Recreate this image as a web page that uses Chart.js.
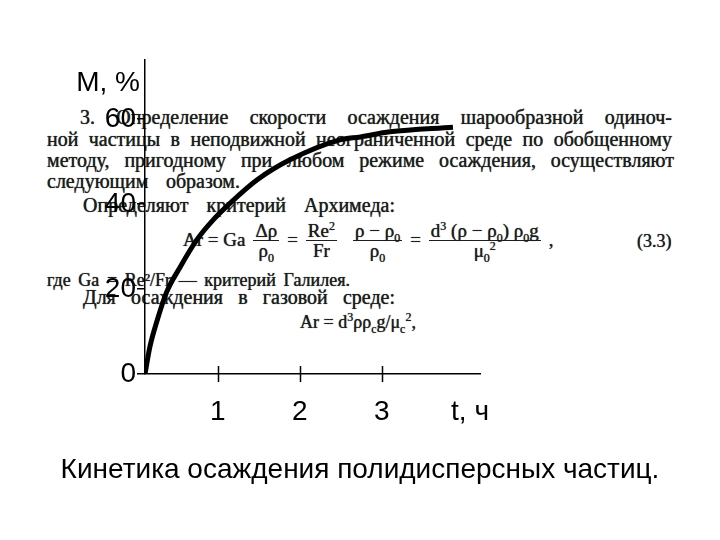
<!DOCTYPE html>
<html>
<head>
<meta charset="utf-8">
<script src="https://cdn.jsdelivr.net/npm/chart.js@4.4.1/dist/chart.umd.min.js"></script>
<style>
  html, body { margin:0; padding:0; background:#fff; }
  #wrap { position:relative; width:720px; height:540px; overflow:hidden; background:#fff; }
  #scan { position:absolute; left:0; top:0; width:720px; height:540px;
          font-family:'Liberation Serif','DejaVu Serif',serif; font-size:20px; color:#1e1e1e;
          text-shadow:0 0 0.8px #1e1e1e; }
  .ln { position:absolute; height:20px; line-height:20px; white-space:nowrap; }
  .j { white-space:normal; text-align:justify; text-align-last:justify; overflow:visible; }
  .f { position:absolute; display:flex; align-items:center; font-size:19px; white-space:nowrap; }
  .fr { display:inline-flex; flex-direction:column; align-items:center; margin:0 8px; line-height:19px; }
  .fr .n { border-bottom:1.5px solid #1e1e1e; padding:0 2px; }
  .fr .d { padding:0 2px; }
  sub, sup { font-size:12px; line-height:0; }
  canvas { position:absolute; left:0; top:0; }
</style>
</head>
<body>
<div id="wrap">
  <div id="scan">
    <div class="ln j" style="left:80px;top:107px;width:592px;">3. Определение скорости осаждения шарообразной одиноч-</div>
    <div class="ln j" style="left:47px;top:129px;width:625px;">ной частицы в неподвижной неограниченной среде по обобщенному</div>
    <div class="ln j" style="left:47px;top:150px;width:627px;">методу, пригодному при любом режиме осаждения, осуществляют</div>
    <div class="ln j" style="left:47px;top:171px;width:193px;">следующим образом.</div>
    <div class="ln j" style="left:83px;top:195px;width:312px;">Определяют критерий Архимеда:</div>
    <div class="f" style="left:183px;top:220px;height:40px;">
      <span>Ar&nbsp;=&nbsp;Ga</span>
      <span class="fr"><span class="n">Δρ</span><span class="d">ρ<sub>0</sub></span></span>
      <span>=</span>
      <span class="fr"><span class="n">Re<sup>2</sup></span><span class="d">Fr</span></span>
      <span class="fr"><span class="n">ρ − ρ<sub>0</sub></span><span class="d">ρ<sub>0</sub></span></span>
      <span>=</span>
      <span class="fr"><span class="n">d<sup>3</sup> (ρ − ρ<sub>0</sub>) ρ<sub>0</sub>g</span><span class="d">μ<sub>0</sub><sup>2</sup></span></span>
      <span>,</span>
    </div>
    <div class="ln" style="left:637px;top:231px;font-size:18px;">(3.3)</div>
    <div class="ln j" style="left:47px;top:270px;width:303px;font-size:18px;">где Ga = Re²/Fr — критерий Галилея.</div>
    <div class="ln j" style="left:83px;top:287px;width:312px;">Для осаждения в газовой среде:</div>
    <div class="ln" style="left:300px;top:312px;font-size:18px;">Ar = d<sup>3</sup>ρρ<sub>c</sub>g/μ<sub>c</sub><sup>2</sup>,</div>
  </div>
  <canvas id="c" width="720" height="540"></canvas>
</div>
<script>
// ---- data ----
const tValues = [0.11, 0.17, 0.26, 0.37, 0.54, 0.74, 0.94, 1.15, 1.48, 1.88, 2.49, 2.74, 3.10, 3.87];
const mValues = [0, 6.4, 12.7, 19.1, 25.2, 31.5, 36.2, 40.2, 45.7, 50.4, 55.1, 55.8, 57.0, 58.1];
const xTickValues = [1, 2, 3];
const yTickValues = [0, 20, 40, 60];
const xAxisName = 't, ч';
const yAxisName = 'M, %';
const caption = 'Кинетика осаждения полидисперсных частиц.';

const FONT = "'Liberation Sans', Arial, sans-serif";

const axisExtras = {
  id: 'axisExtras',
  afterDraw(chart) {
    const { ctx, chartArea: a, scales: { x } } = chart;
    ctx.save();
    ctx.strokeStyle = '#000';
    ctx.lineWidth = 1.5;
    xTickValues.forEach(v => {
      const px = Math.round(x.getPixelForValue(v)) + 0.5;
      ctx.beginPath();
      ctx.moveTo(px, a.bottom - 8);
      ctx.lineTo(px, a.bottom + 8);
      ctx.stroke();
    });
    ctx.fillStyle = '#000';
    ctx.font = '28px ' + FONT;
    ctx.textBaseline = 'middle';
    ctx.textAlign = 'right';
    ctx.fillText(yAxisName, a.left - 5, a.top + 23);
    ctx.textAlign = 'center';
    ctx.fillText(xAxisName, a.right - 10, a.bottom + 38);
    ctx.restore();
  }
};

new Chart(document.getElementById('c'), {
  type: 'scatter',
  data: {
    datasets: [{
      data: tValues.map((t, i) => ({ x: t, y: mValues[i] })),
      showLine: true,
      borderColor: '#000',
      borderWidth: 5,
      pointRadius: 0,
      cubicInterpolationMode: 'monotone',
      fill: false
    }]
  },
  options: {
    responsive: false,
    animation: false,
    devicePixelRatio: 1,
    layout: { padding: { left: 0, top: 60, right: 0, bottom: 0 } },
    plugins: {
      legend: { display: false },
      tooltip: { enabled: false },
      title: {
        display: true,
        position: 'bottom',
        text: caption,
        color: '#000',
        font: { family: FONT, size: 28, weight: 'normal' },
        padding: { top: 29.2, bottom: 53.2 }
      }
    },
    scales: {
      x: {
        type: 'linear',
        min: 0.11,
        max: 4.2,
        afterBuildTicks: s => { s.ticks = xTickValues.map(v => ({ value: v })); },
        afterFit: s => { s.height = 50; },
        grid: { display: true, drawOnChartArea: false, drawTicks: false },
        border: { display: true, color: '#000', width: 1.5 },
        ticks: { color: '#000', font: { family: FONT, size: 28 }, padding: 21, maxRotation: 0, autoSkip: false,
                 callback: v => String(v) }
      },
      y: {
        type: 'linear',
        min: 0,
        max: 73.9,
        afterBuildTicks: s => { s.ticks = yTickValues.map(v => ({ value: v })); },
        afterFit: s => { s.width = 145; },
        grid: { display: true, drawOnChartArea: false, drawTicks: true, tickLength: 8, color: '#000', lineWidth: 1.5 },
        border: { display: true, color: '#000', width: 1.5 },
        ticks: { color: '#000', font: { family: FONT, size: 28 }, padding: 1, autoSkip: false,
                 callback: v => String(v) }
      },
      spacer: {
        type: 'linear',
        position: 'right',
        display: true,
        afterFit: s => { s.width = 240; },
        grid: { display: false },
        border: { display: false },
        ticks: { display: false }
      }
    }
  },
  plugins: [axisExtras]
});
</script>
</body>
</html>
